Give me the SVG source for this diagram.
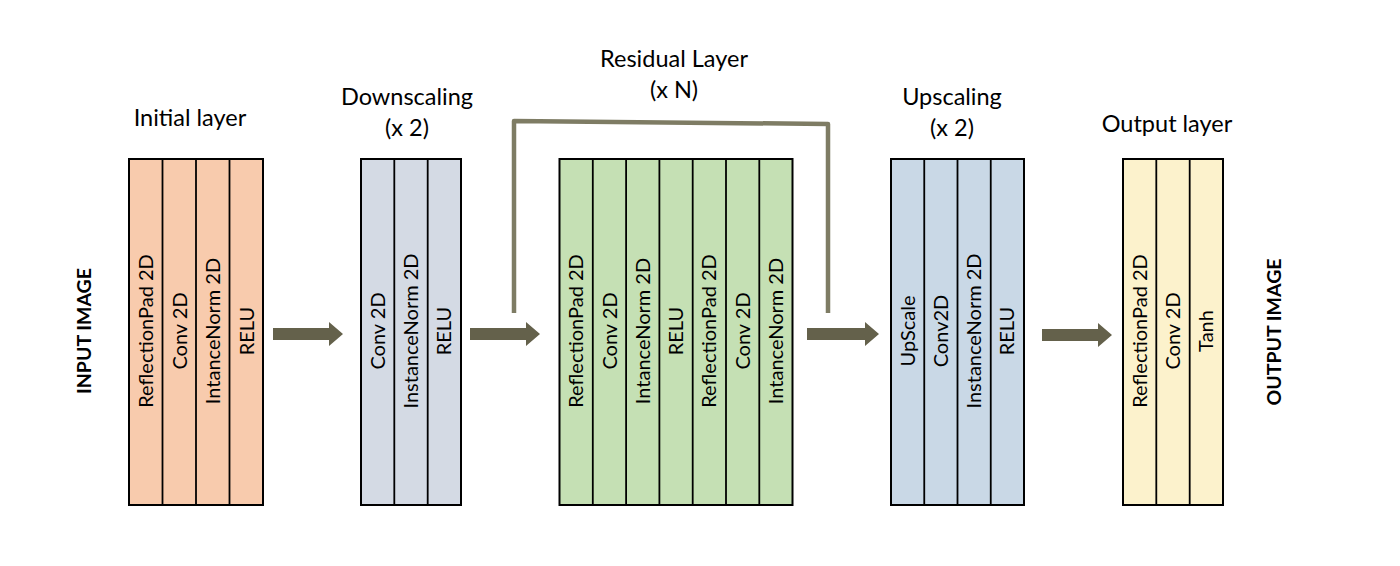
<svg xmlns="http://www.w3.org/2000/svg" width="1400" height="566" viewBox="0 0 1400 566">
<style>
.box{stroke:#000;stroke-width:2}
.div{stroke:#000;stroke-width:1.8}
.t{font-family:Lato,"Liberation Sans",sans-serif;font-size:20px;fill:#000;text-anchor:middle}
.h{font-family:Lato,"Liberation Sans",sans-serif;font-size:23.5px;fill:#000;text-anchor:middle}
.io{font-family:Lato,"Liberation Sans",sans-serif;font-size:19.5px;font-weight:bold;fill:#000;text-anchor:middle}
.arrow{fill:#64614b}
.skip{fill:none;stroke:#7e7c64;stroke-width:4.5;stroke-linejoin:round}
</style>
<rect width="1400" height="566" fill="#fff"/>

<g id="input-image">
<text class="io" transform="translate(91,331) rotate(-90)">INPUT IMAGE</text>
</g>

<g id="initial-layer">
<text class="h" x="190" y="126">Initial layer</text>
<rect class="box" x="129" y="159" width="134" height="346" fill="#f8cbad"/>
<line class="div" x1="162.5" y1="159" x2="162.5" y2="505"/>
<line class="div" x1="196" y1="159" x2="196" y2="505"/>
<line class="div" x1="229.5" y1="159" x2="229.5" y2="505"/>
<text class="t" transform="translate(153,331) rotate(-90)">ReflectionPad 2D</text>
<text class="t" transform="translate(186.5,331) rotate(-90)">Conv 2D</text>
<text class="t" transform="translate(220,331) rotate(-90)">IntanceNorm 2D</text>
<text class="t" transform="translate(253.5,331) rotate(-90)">RELU</text>
</g>

<g id="downscaling">
<text class="h" x="407" y="105">Downscaling</text>
<text class="h" x="407" y="136">(x 2)</text>
<rect class="box" x="361" y="159" width="100" height="346" fill="#d4dae4"/>
<line class="div" x1="394.3" y1="159" x2="394.3" y2="505"/>
<line class="div" x1="427.7" y1="159" x2="427.7" y2="505"/>
<text class="t" transform="translate(384.7,331) rotate(-90)">Conv 2D</text>
<text class="t" transform="translate(418,331) rotate(-90)">InstanceNorm 2D</text>
<text class="t" transform="translate(451.3,331) rotate(-90)">RELU</text>
</g>

<g id="residual-layer">
<text class="h" x="674" y="67">Residual Layer</text>
<text class="h" x="674" y="98">(x N)</text>
<rect class="box" x="559.5" y="159" width="233" height="346" fill="#c5e0b4"/>
<line class="div" x1="592.8" y1="159" x2="592.8" y2="505"/>
<line class="div" x1="626.1" y1="159" x2="626.1" y2="505"/>
<line class="div" x1="659.4" y1="159" x2="659.4" y2="505"/>
<line class="div" x1="692.7" y1="159" x2="692.7" y2="505"/>
<line class="div" x1="726" y1="159" x2="726" y2="505"/>
<line class="div" x1="759.3" y1="159" x2="759.3" y2="505"/>
<text class="t" transform="translate(583.2,331) rotate(-90)">ReflectionPad 2D</text>
<text class="t" transform="translate(616.5,331) rotate(-90)">Conv 2D</text>
<text class="t" transform="translate(649.8,331) rotate(-90)">IntanceNorm 2D</text>
<text class="t" transform="translate(683.1,331) rotate(-90)">RELU</text>
<text class="t" transform="translate(716.4,331) rotate(-90)">ReflectionPad 2D</text>
<text class="t" transform="translate(749.7,331) rotate(-90)">Conv 2D</text>
<text class="t" transform="translate(783,331) rotate(-90)">IntanceNorm 2D</text>
</g>

<g id="upscaling">
<text class="h" x="952" y="105">Upscaling</text>
<text class="h" x="952" y="136">(x 2)</text>
<rect class="box" x="891" y="159" width="133" height="346" fill="#c9d8e6"/>
<line class="div" x1="924.25" y1="159" x2="924.25" y2="505"/>
<line class="div" x1="957.5" y1="159" x2="957.5" y2="505"/>
<line class="div" x1="990.75" y1="159" x2="990.75" y2="505"/>
<text class="t" transform="translate(914.6,331) rotate(-90)">UpScale</text>
<text class="t" transform="translate(947.9,331) rotate(-90)">Conv2D</text>
<text class="t" transform="translate(981.1,331) rotate(-90)">InstanceNorm 2D</text>
<text class="t" transform="translate(1014.4,331) rotate(-90)">RELU</text>
</g>

<g id="output-layer">
<text class="h" x="1167" y="132">Output layer</text>
<rect class="box" x="1123" y="159" width="100" height="346" fill="#fcf2cc"/>
<line class="div" x1="1156.3" y1="159" x2="1156.3" y2="505"/>
<line class="div" x1="1189.7" y1="159" x2="1189.7" y2="505"/>
<text class="t" transform="translate(1146.7,331) rotate(-90)">ReflectionPad 2D</text>
<text class="t" transform="translate(1180,331) rotate(-90)">Conv 2D</text>
<text class="t" transform="translate(1213.3,331) rotate(-90)">Tanh</text>
</g>

<g id="output-image">
<text class="io" transform="translate(1281,332) rotate(-90)">OUTPUT IMAGE</text>
</g>

<g id="connectors">
<path class="arrow" d="M273 328H329V322L343 334L329 346V340H273Z"/>
<path class="arrow" d="M470 328H526V322L540 334L526 346V340H470Z"/>
<path class="skip" d="M514 313V121L828 124V313"/>
<path class="arrow" d="M807 328H865V322L879 334L865 346V340H807Z"/>
<path class="arrow" d="M1042 329H1098V323L1112 335L1098 347V341H1042Z"/>
</g>
</svg>
